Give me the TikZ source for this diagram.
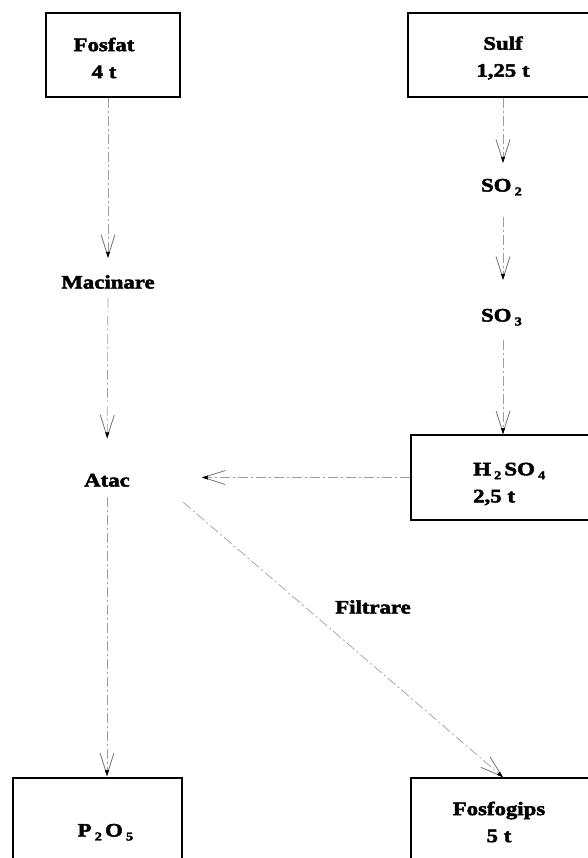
\documentclass[tikz,border=0pt]{standalone}
\usepackage{fontspec}
\setmainfont{Liberation Serif}[FakeStretch=1.2, BoldFeatures={FakeBold=2.5}]
\usetikzlibrary{arrows.meta,calc}
\newcommand\chsub[1]{\,\raisebox{-0.45ex}{\fontsize{12}{12}\selectfont #1}\,}
\begin{document}
\begin{tikzpicture}[x=1pt,y=-1pt,
  pbox/.style={draw, line width=1.6pt, inner sep=0pt},
  txt/.style={font=\bfseries\fontsize{19}{27}\selectfont, inner sep=0pt, align=center},
  lbl/.style={txt, text height=13pt, text depth=0pt},
  conn/.style={draw=gray!75, line width=0.7pt, dash pattern=on 10pt off 3pt on 2pt off 3pt,
    -{Straight Barb[length=22pt,width=14pt,line width=0.8pt,gray!90!black,sep=-6pt]Triangle[length=6pt,width=4pt,black]}}]
\useasboundingbox (0,0) rectangle (588,858);
\clip (0,0) rectangle (588,858);
% boxes
\node[pbox, minimum width=134pt, minimum height=84pt] (fosfatbox) at (113,55) {};
\node[pbox, minimum width=190pt, minimum height=84pt] (sulfbox) at (503,55) {};
\node[pbox, minimum width=190pt, minimum height=85pt] (h2so4box) at (506,477.5) {};
\node[pbox, minimum width=169pt, minimum height=102pt] (p2o5box) at (97.5,829) {};
\node[pbox, minimum width=184pt, minimum height=102pt] (fosgbox) at (503,829) {};
% texts in boxes
\node[txt] (fosfatT) at (104,58) {Fosfat\\4 t};
\node[txt] (sulfT) at (503,58) {Sulf\\1,25 t};
\node[txt, align=left, anchor=west] (h2so4T) at (473,484) {H\chsub{2}SO\chsub{4}\\2,5 t};
\node[lbl] (p2o5T) at (107,830) {P\chsub{2}O\chsub{5}};
\node[txt] (fosgT) at (499,822) {Fosfogips\\5 t};
% free labels
\node[lbl] (macinare) at (108,282) {Macinare};
\node[lbl] (atac) at (107,480) {Atac};
\node[lbl] (so2) at (503,185) {SO\chsub{2}};
\node[lbl] (so3) at (503,315) {SO\chsub{3}};
\node[lbl] (filtrare) at (373,607) {Filtrare};
% connectors
\draw[conn, shorten >=17.5pt] (macinare |- fosfatbox.south) -- (macinare.north);
\draw[conn, shorten <=9pt, shorten >=35pt] (macinare.south) -- (atac.north);
\draw[conn, shorten <=10pt, shorten >=1pt] (atac.south) -- (atac |- p2o5box.north);
\draw[conn, shorten >=15.5pt] (so2 |- sulfbox.south) -- (so2.north);
\draw[conn, shorten <=25pt, shorten >=28.5pt] (so2.south) -- (so3.north);
\draw[conn, shorten <=18.5pt] (so3.south) -- (so3 |- h2so4box.north);
\draw[conn, shorten >=72pt] (h2so4box.west) -- (h2so4box.west -| atac.east);
\draw[conn, shorten <=70pt] ($(atac.east)+(0,-23.5)$) -- (fosgbox.north);
\end{tikzpicture}
\end{document}
